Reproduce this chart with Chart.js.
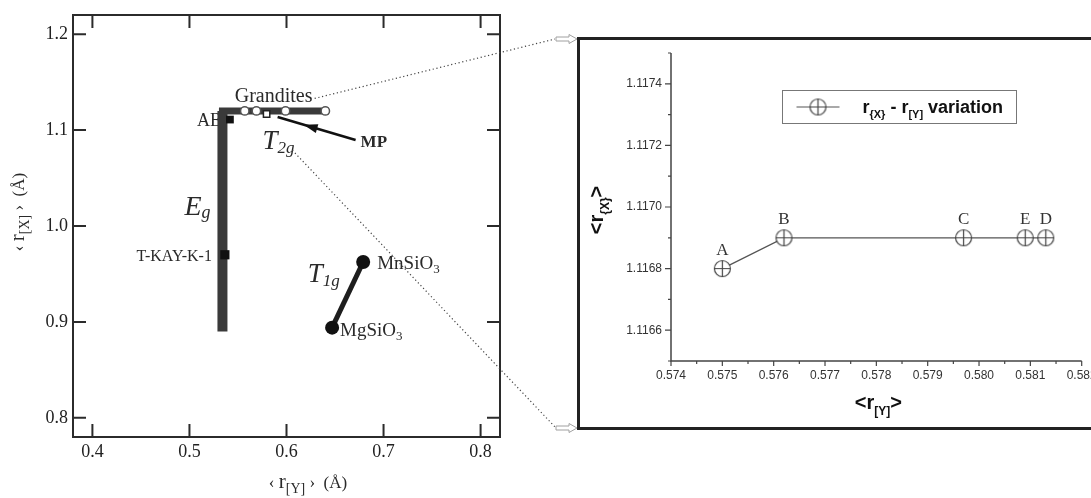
<!DOCTYPE html>
<html lang="en">
<head>
<meta charset="UTF-8">
<title>r[X] vs r[Y] with zoom on MP</title>
<script src="https://cdn.jsdelivr.net/npm/chart.js"></script>
<style>
  body { margin: 0; background: #fff; overflow: hidden; }
  #wrap { position: relative; width: 1091px; height: 498px; overflow: hidden; background: #fff; }
  #leftChart { position: absolute; left: 0; top: 0; }
  #zoomBox { position: absolute; left: 577px; top: 37px; width: 600px; height: 387px; border: 3px solid #222; }
  #zoomChart { position: absolute; left: 580px; top: 40px; }
</style>
</head>
<body>
<div id="wrap">
  <canvas id="leftChart" width="580" height="498"></canvas>
  <div id="zoomBox"></div>
  <canvas id="zoomChart" width="511" height="387"></canvas>
</div>

<script>
    // ---- left panel: <r[X]> against <r[Y]> ----
    const xTicksMain = [0.4, 0.5, 0.6, 0.7, 0.8];
    const yTicksMain = [0.8, 0.9, 1.0, 1.1, 1.2];

    const egRY = [0.534, 0.534];
    const egRX = [0.89, 1.12];
    const t2gRY = [0.534, 0.640];
    const t2gRX = [1.12, 1.12];
    const grandRY = [0.557, 0.569, 0.599, 0.640];
    const grandRX = [1.12, 1.12, 1.12, 1.12];
    const mpRY = [0.5795];
    const mpRX = [1.1168];
    const abRY = [0.5417];
    const abRX = [1.111];
    const tkayRY = [0.5365];
    const tkayRX = [0.970];
    const t1gRY = [0.647, 0.679];
    const t1gRX = [0.894, 0.9625];

    // ---- right panel: zoom around MP ----
    const zoomNames = ['A', 'B', 'C', 'E', 'D'];
    const zoomRY = [0.5750, 0.5762, 0.5797, 0.5809, 0.5813];
    const zoomRX = [1.1168, 1.1169, 1.1169, 1.1169, 1.1169];
    const xTicksZoom = [0.574, 0.575, 0.576, 0.577, 0.578, 0.579, 0.580, 0.581, 0.582];
    const yTicksZoom = [1.1166, 1.1168, 1.1170, 1.1172, 1.1174];

    const SERIF = "'Liberation Serif', 'DejaVu Serif', serif";
    const SANS = "'Liberation Sans', Arial, sans-serif";

    const pts = (xs, ys) => xs.map((v, i) => ({x: v, y: ys[i]}));

    // text made of pieces (for subscripts), y is the baseline
    function richText(ctx, x, y, parts, align) {
        const widths = parts.map(p => { ctx.font = p.f; return ctx.measureText(p.t).width; });
        const total = widths.reduce((a, b) => a + b, 0);
        let cx = align === 'right' ? x - total : align === 'center' ? x - total / 2 : x;
        parts.forEach((p, i) => {
            ctx.font = p.f;
            ctx.fillText(p.t, cx, y + (p.dy || 0));
            cx += widths[i];
        });
    }

    const mainDecor = {
        id: 'mainDecor',
        beforeDatasetsDraw(chart) {
            const {ctx, scales: {x, y}} = chart;
            const px = (a, b) => [x.getPixelForValue(a), y.getPixelForValue(b)];
            ctx.save();
            ctx.fillStyle = '#2a2a2a';
            ctx.textBaseline = 'alphabetic';

            let [gx, gy] = px(grandRY[0], grandRX[0]);
            richText(ctx, gx - 10, gy - 9, [{t: 'Grandites', f: `20px ${SERIF}`}]);

            let [ax, ay] = px(abRY[0], abRX[0]);
            richText(ctx, ax - 8, ay + 6, [{t: 'AB', f: `18px ${SERIF}`}], 'right');

            let [kx, ky] = px(tkayRY[0], tkayRX[0]);
            richText(ctx, kx - 13, ky + 6, [{t: 'T-KAY-K-1', f: `16px ${SERIF}`}], 'right');

            let [ex, ey] = px(egRY[0], (egRX[0] + egRX[1]) / 2);
            richText(ctx, ex - 38, ey - 6, [
                {t: 'E', f: `italic 28px ${SERIF}`},
                {t: 'g', f: `italic 18px ${SERIF}`, dy: 3}
            ]);

            let [mx, my] = px(mpRY[0], mpRX[0]);
            richText(ctx, mx - 4, my + 35, [
                {t: 'T', f: `italic 27px ${SERIF}`},
                {t: '2g', f: `italic 17px ${SERIF}`, dy: 4}
            ]);

            let [ux, uy] = px((t1gRY[0] + t1gRY[1]) / 2, (t1gRX[0] + t1gRX[1]) / 2);
            richText(ctx, ux - 40, uy - 13, [
                {t: 'T', f: `italic 27px ${SERIF}`},
                {t: '1g', f: `italic 17px ${SERIF}`, dy: 4}
            ]);

            let [nx, ny] = px(t1gRY[1], t1gRX[1]);
            richText(ctx, nx + 14, ny + 7, [
                {t: 'MnSiO', f: `19px ${SERIF}`},
                {t: '3', f: `13px ${SERIF}`, dy: 4}
            ]);
            let [sx, sy] = px(t1gRY[0], t1gRX[0]);
            richText(ctx, sx + 8, sy + 8, [
                {t: 'MgSiO', f: `19px ${SERIF}`},
                {t: '3', f: `13px ${SERIF}`, dy: 4}
            ]);

            richText(ctx, mx + 94, my + 33, [{t: 'MP', f: `bold 17px ${SERIF}`}]);
            ctx.restore();
        },
        afterDraw(chart) {
            const {ctx, chartArea: ca, scales: {x, y}} = chart;
            ctx.save();
            // frame
            ctx.strokeStyle = '#2b2b2b';
            ctx.lineWidth = 2;
            ctx.strokeRect(ca.left, ca.top, ca.right - ca.left, ca.bottom - ca.top);
            // inward ticks on the four sides
            ctx.beginPath();
            xTicksMain.forEach(v => {
                const p = x.getPixelForValue(v);
                ctx.moveTo(p, ca.bottom); ctx.lineTo(p, ca.bottom - 13);
                ctx.moveTo(p, ca.top); ctx.lineTo(p, ca.top + 13);
            });
            yTicksMain.forEach(v => {
                const p = y.getPixelForValue(v);
                ctx.moveTo(ca.left, p); ctx.lineTo(ca.left + 13, p);
                ctx.moveTo(ca.right, p); ctx.lineTo(ca.right - 13, p);
            });
            ctx.stroke();

            // arrow from MP label to the MP square
            const mx = x.getPixelForValue(mpRY[0]), my = y.getPixelForValue(mpRX[0]);
            const x0 = mx + 89, y0 = my + 26, x1 = mx + 11, y1 = my + 3;
            ctx.strokeStyle = '#111';
            ctx.lineWidth = 2.5;
            ctx.beginPath(); ctx.moveTo(x0, y0); ctx.lineTo(x1, y1); ctx.stroke();
            const ang = Math.atan2(y1 - y0, x1 - x0);
            const hx = x1 + (x0 - x1) * 0.42, hy = y1 + (y0 - y1) * 0.42;
            ctx.fillStyle = '#111';
            ctx.beginPath();
            ctx.moveTo(hx + Math.cos(ang) * 7, hy + Math.sin(ang) * 7);
            ctx.lineTo(hx - Math.cos(ang) * 7 - Math.sin(ang) * 4.5, hy - Math.sin(ang) * 7 + Math.cos(ang) * 4.5);
            ctx.lineTo(hx - Math.cos(ang) * 7 + Math.sin(ang) * 4.5, hy - Math.sin(ang) * 7 - Math.cos(ang) * 4.5);
            ctx.closePath(); ctx.fill();

            // dotted guides towards the zoom box
            const up = [x.getPixelForValue(0.629), y.getPixelForValue(1.133)];
            const lo = [x.getPixelForValue(0.606), y.getPixelForValue(1.079)];
            ctx.strokeStyle = '#444';
            ctx.lineWidth = 1.2;
            ctx.setLineDash([1.2, 2.6]);
            ctx.beginPath();
            ctx.moveTo(up[0], up[1]); ctx.lineTo(555, 39);
            ctx.moveTo(lo[0], lo[1]); ctx.lineTo(556, 428);
            ctx.stroke();
            ctx.setLineDash([]);
            // hollow arrows
            ctx.strokeStyle = '#a0a0a0';
            ctx.lineWidth = 1;
            [39, 428].forEach(cy => {
                ctx.beginPath();
                ctx.moveTo(556, cy - 2); ctx.lineTo(569, cy - 2); ctx.lineTo(569, cy - 4.5);
                ctx.lineTo(577, cy); ctx.lineTo(569, cy + 4.5); ctx.lineTo(569, cy + 2);
                ctx.lineTo(556, cy + 2); ctx.closePath();
                ctx.stroke();
            });

            // axis titles
            ctx.fillStyle = '#2a2a2a';
            ctx.textBaseline = 'alphabetic';
            richText(ctx, 308, 488, [
                {t: '\u2039 ', f: `17px ${SERIF}`},
                {t: 'r', f: `21px ${SERIF}`},
                {t: '[Y]', f: `14px ${SERIF}`, dy: 5},
                {t: ' \u203A  (\u00C5)', f: `17px ${SERIF}`}
            ], 'center');
            ctx.translate(24, 212);
            ctx.rotate(-Math.PI / 2);
            richText(ctx, 0, 0, [
                {t: '\u2039 ', f: `17px ${SERIF}`},
                {t: 'r', f: `21px ${SERIF}`},
                {t: '[X]', f: `14px ${SERIF}`, dy: 5},
                {t: ' \u203A  (\u00C5)', f: `17px ${SERIF}`}
            ], 'center');
            ctx.restore();
        }
    };

    new Chart(document.getElementById('leftChart'), {
        type: 'scatter',
        data: {
            datasets: [
                {data: pts(mpRY, mpRX), pointStyle: 'rect', pointRadius: 4.5, backgroundColor: '#fff', borderColor: '#222', borderWidth: 1.5},
                {data: pts(abRY, abRX), pointStyle: 'rect', pointRadius: 5.5, backgroundColor: '#111', borderColor: '#111', borderWidth: 0},
                {data: pts(tkayRY, tkayRX), pointStyle: 'rect', pointRadius: 6.5, backgroundColor: '#111', borderColor: '#111', borderWidth: 0},
                {data: pts(grandRY, grandRX), pointStyle: 'circle', pointRadius: 4.2, backgroundColor: '#fff', borderColor: '#555', borderWidth: 1.5},
                {data: pts(t1gRY, t1gRX), showLine: true, borderColor: '#1e1e1e', borderWidth: 5, pointRadius: 7, pointBackgroundColor: '#111', pointBorderWidth: 0},
                {data: pts(t2gRY, t2gRX), showLine: true, borderColor: '#3a3a3a', borderWidth: 7, borderCapStyle: 'square', pointRadius: 0},
                {data: pts(egRY, egRX), showLine: true, borderColor: '#3a3a3a', borderWidth: 10, borderCapStyle: 'butt', pointRadius: 0}
            ]
        },
        options: {
            responsive: false,
            animation: false,
            devicePixelRatio: 1,
            layout: {padding: {left: 0, top: 15, right: 80, bottom: 0}},
            plugins: {legend: {display: false}, tooltip: {enabled: false}},
            scales: {
                x: {
                    type: 'linear', min: 0.38, max: 0.82,
                    afterBuildTicks: s => { s.ticks = xTicksMain.map(v => ({value: v})); },
                    afterFit: s => { s.height = 61; s.paddingLeft = 0; s.paddingRight = 0; },
                    grid: {display: false, drawTicks: false},
                    border: {display: false},
                    ticks: {padding: 4, color: '#222', font: {family: SERIF, size: 18}, callback: v => v.toFixed(1)}
                },
                y: {
                    type: 'linear', min: 0.78, max: 1.22,
                    afterBuildTicks: s => { s.ticks = yTicksMain.map(v => ({value: v})); },
                    afterFit: s => { s.width = 73; s.paddingTop = 0; s.paddingBottom = 0; },
                    grid: {display: false, drawTicks: false},
                    border: {display: false},
                    ticks: {padding: 5, color: '#222', font: {family: SERIF, size: 18}, callback: v => v.toFixed(1)}
                }
            }
        },
        plugins: [mainDecor]
    });

    // circle-with-cross marker
    function makeOplus(r) {
        const c = document.createElement('canvas');
        c.width = c.height = 2 * r + 3;
        const g = c.getContext('2d');
        const m = r + 1.5;
        g.fillStyle = '#fff';
        g.strokeStyle = '#444';
        g.lineWidth = 1.2;
        g.beginPath(); g.arc(m, m, r, 0, Math.PI * 2); g.fill(); g.stroke();
        g.beginPath();
        g.moveTo(m - r, m); g.lineTo(m + r, m);
        g.moveTo(m, m - r); g.lineTo(m, m + r);
        g.stroke();
        return c;
    }
    const oplus = makeOplus(8);

    const zoomDecor = {
        id: 'zoomDecor',
        afterDraw(chart) {
            const {ctx, chartArea: ca, scales: {x, y}} = chart;
            ctx.save();
            // axes
            ctx.strokeStyle = '#444';
            ctx.lineWidth = 1.5;
            ctx.beginPath();
            ctx.moveTo(ca.left, ca.top); ctx.lineTo(ca.left, ca.bottom); ctx.lineTo(ca.right, ca.bottom);
            ctx.stroke();
            // ticks, major and minor
            ctx.lineWidth = 1.2;
            ctx.beginPath();
            yTicksZoom.forEach(v => {
                const p = y.getPixelForValue(v);
                ctx.moveTo(ca.left, p); ctx.lineTo(ca.left - 6, p);
            });
            const yMinor = [y.min, y.max];
            for (let i = 0; i < yTicksZoom.length - 1; i++) yMinor.push((yTicksZoom[i] + yTicksZoom[i + 1]) / 2);
            yMinor.forEach(v => {
                const p = y.getPixelForValue(v);
                ctx.moveTo(ca.left, p); ctx.lineTo(ca.left - 3, p);
            });
            xTicksZoom.forEach((v, i) => {
                const p = x.getPixelForValue(v);
                ctx.moveTo(p, ca.bottom); ctx.lineTo(p, ca.bottom + 5);
                if (i < xTicksZoom.length - 1) {
                    const q = x.getPixelForValue((v + xTicksZoom[i + 1]) / 2);
                    ctx.moveTo(q, ca.bottom); ctx.lineTo(q, ca.bottom + 3);
                }
            });
            ctx.stroke();

            // point letters
            ctx.fillStyle = '#333';
            ctx.textAlign = 'center';
            ctx.textBaseline = 'alphabetic';
            ctx.font = `17px ${SERIF}`;
            zoomNames.forEach((n, i) => {
                ctx.fillText(n, x.getPixelForValue(zoomRY[i]), y.getPixelForValue(zoomRX[i]) - 14);
            });
            ctx.textAlign = 'left';

            // legend
            const bx = ca.left + 111.5, by = ca.top + 37.5, bw = 234, bh = 33;
            ctx.strokeStyle = '#777';
            ctx.lineWidth = 1;
            ctx.strokeRect(bx, by, bw, bh);
            const cy = by + bh / 2;
            ctx.strokeStyle = '#555';
            ctx.lineWidth = 1.2;
            ctx.beginPath(); ctx.moveTo(bx + 14, cy); ctx.lineTo(bx + 57, cy); ctx.stroke();
            ctx.drawImage(oplus, bx + 35.5 - oplus.width / 2, cy - oplus.height / 2);
            ctx.fillStyle = '#111';
            richText(ctx, bx + 80, cy + 6, [
                {t: 'r', f: `bold 18px ${SANS}`},
                {t: '{X}', f: `bold 11px ${SANS}`, dy: 5},
                {t: ' - r', f: `bold 18px ${SANS}`},
                {t: '[Y]', f: `bold 11px ${SANS}`, dy: 5},
                {t: ' variation', f: `bold 18px ${SANS}`}
            ]);

            // axis titles
            const midX = (ca.left + ca.right) / 2;
            richText(ctx, midX + 2, ca.bottom + 48, [
                {t: '<r', f: `bold 20px ${SANS}`},
                {t: '[Y]', f: `bold 12px ${SANS}`, dy: 6},
                {t: '>', f: `bold 20px ${SANS}`}
            ], 'center');
            ctx.translate(ca.left - 68, (ca.top + ca.bottom) / 2 + 3);
            ctx.rotate(-Math.PI / 2);
            richText(ctx, 0, 0, [
                {t: '<r', f: `bold 20px ${SANS}`},
                {t: '{X}', f: `bold 12px ${SANS}`, dy: 6},
                {t: '>', f: `bold 20px ${SANS}`}
            ], 'center');
            ctx.restore();
        }
    };

    new Chart(document.getElementById('zoomChart'), {
        type: 'scatter',
        data: {
            datasets: [{
                label: 'r{X} - r[Y] variation',
                data: pts(zoomRY, zoomRX),
                showLine: true,
                borderColor: '#555',
                borderWidth: 1.3,
                pointStyle: oplus,
                pointRadius: 8
            }]
        },
        options: {
            responsive: false,
            animation: false,
            devicePixelRatio: 1,
            layout: {padding: {left: 0, top: 13, right: 8, bottom: 0}},
            plugins: {legend: {display: false}, tooltip: {enabled: false}},
            scales: {
                x: {
                    type: 'linear', min: 0.574, max: 0.582,
                    afterBuildTicks: s => { s.ticks = xTicksZoom.map(v => ({value: v})); },
                    afterFit: s => { s.height = 66; s.paddingLeft = 0; s.paddingRight = 0; },
                    grid: {display: false, drawTicks: false},
                    border: {display: false},
                    ticks: {padding: 7, color: '#333', font: {family: SANS, size: 12}, callback: v => v.toFixed(3)}
                },
                y: {
                    type: 'linear', min: 1.1165, max: 1.1175,
                    afterBuildTicks: s => { s.ticks = yTicksZoom.map(v => ({value: v})); },
                    afterFit: s => { s.width = 91; s.paddingTop = 0; s.paddingBottom = 0; },
                    grid: {display: false, drawTicks: false},
                    border: {display: false},
                    ticks: {padding: 9, color: '#333', font: {family: SANS, size: 12}, callback: v => v.toFixed(4)}
                }
            }
        },
        plugins: [zoomDecor]
    });
</script>
</body>
</html>
